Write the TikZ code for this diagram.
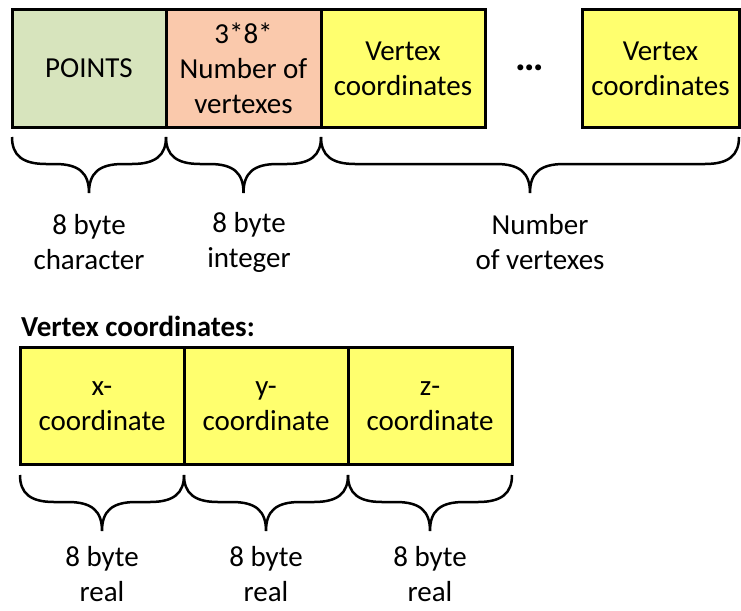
\documentclass[tikz,border=0pt]{standalone}
\usepackage{fontspec}
\setmainfont{Carlito}
\definecolor{cgreen}{RGB}{215,228,189}
\definecolor{corange}{RGB}{250,201,172}
\definecolor{cyellow}{RGB}{255,255,110}
\newcommand\mybrace[4]{%
  \draw[brc] (#1,#3) .. controls (#1,#3+18) and (#1+10,#3+27) .. (#1+34,#3+27)
    -- ({(#1+#2)/2-34},#3+27) .. controls ({(#1+#2)/2-10},#3+27) and ({(#1+#2)/2},#3+36) .. ({(#1+#2)/2},#4)
    .. controls ({(#1+#2)/2},#3+36) and ({(#1+#2)/2+10},#3+27) .. ({(#1+#2)/2+34},#3+27)
    -- (#2-34,#3+27) .. controls (#2-10,#3+27) and (#2,#3+18) .. (#2,#3);}
\begin{document}
\begin{tikzpicture}[x=1pt,y=-1pt,
  txt/.style={align=center,inner sep=0pt,font=\fontsize{29}{35}\selectfont},
  box/.style={txt,draw,line width=3pt,minimum height=117pt},
  brc/.style={line width=2.5pt}]
\useasboundingbox (0,0) rectangle (741,610);
% top row
\node[box,fill=cgreen,minimum width=154pt] (p1) at (89,68.5) {POINTS};
\node[box,fill=corange,minimum width=155pt] (p2) at (243.5,68.5) {3*8*\\Number of\\vertexes};
\node[box,fill=cyellow,minimum width=164pt] (p3) at (403,68.5) {Vertex\\coordinates};
\node[txt,font=\fontsize{40}{40}\selectfont\bfseries] (dots) at (530,68) {…};
\node[box,fill=cyellow,minimum width=157pt] (p4) at (660.5,68.5) {Vertex\\coordinates};
\mybrace{12}{166}{137}{193}
\mybrace{166}{321}{137}{193}
\mybrace{321}{739}{137}{193}
\node[txt] (l1) at (89,242) {8 byte\\character};
\node[txt] (l2) at (249,242) {8 byte\\integer};
\node[txt] (l3) at (540,242) {Number\\of vertexes};
% bottom
\node[txt,anchor=west,font=\fontsize{29}{34}\selectfont\bfseries] (title) at (21,326) {Vertex coordinates:};
\node[box,fill=cyellow,minimum width=164pt] (c1) at (102,406) {x-\\coordinate};
\node[box,fill=cyellow,minimum width=164pt] (c2) at (266,406) {y-\\coordinate};
\node[box,fill=cyellow,minimum width=164pt] (c3) at (430,406) {z-\\coordinate};
\mybrace{20}{184}{475}{531}
\mybrace{184}{348}{475}{531}
\mybrace{348}{512}{475}{531}
\node[txt] (r1) at (102,574) {8 byte\\real};
\node[txt] (r2) at (266,574) {8 byte\\real};
\node[txt] (r3) at (430,574) {8 byte\\real};
\end{tikzpicture}
\end{document}
